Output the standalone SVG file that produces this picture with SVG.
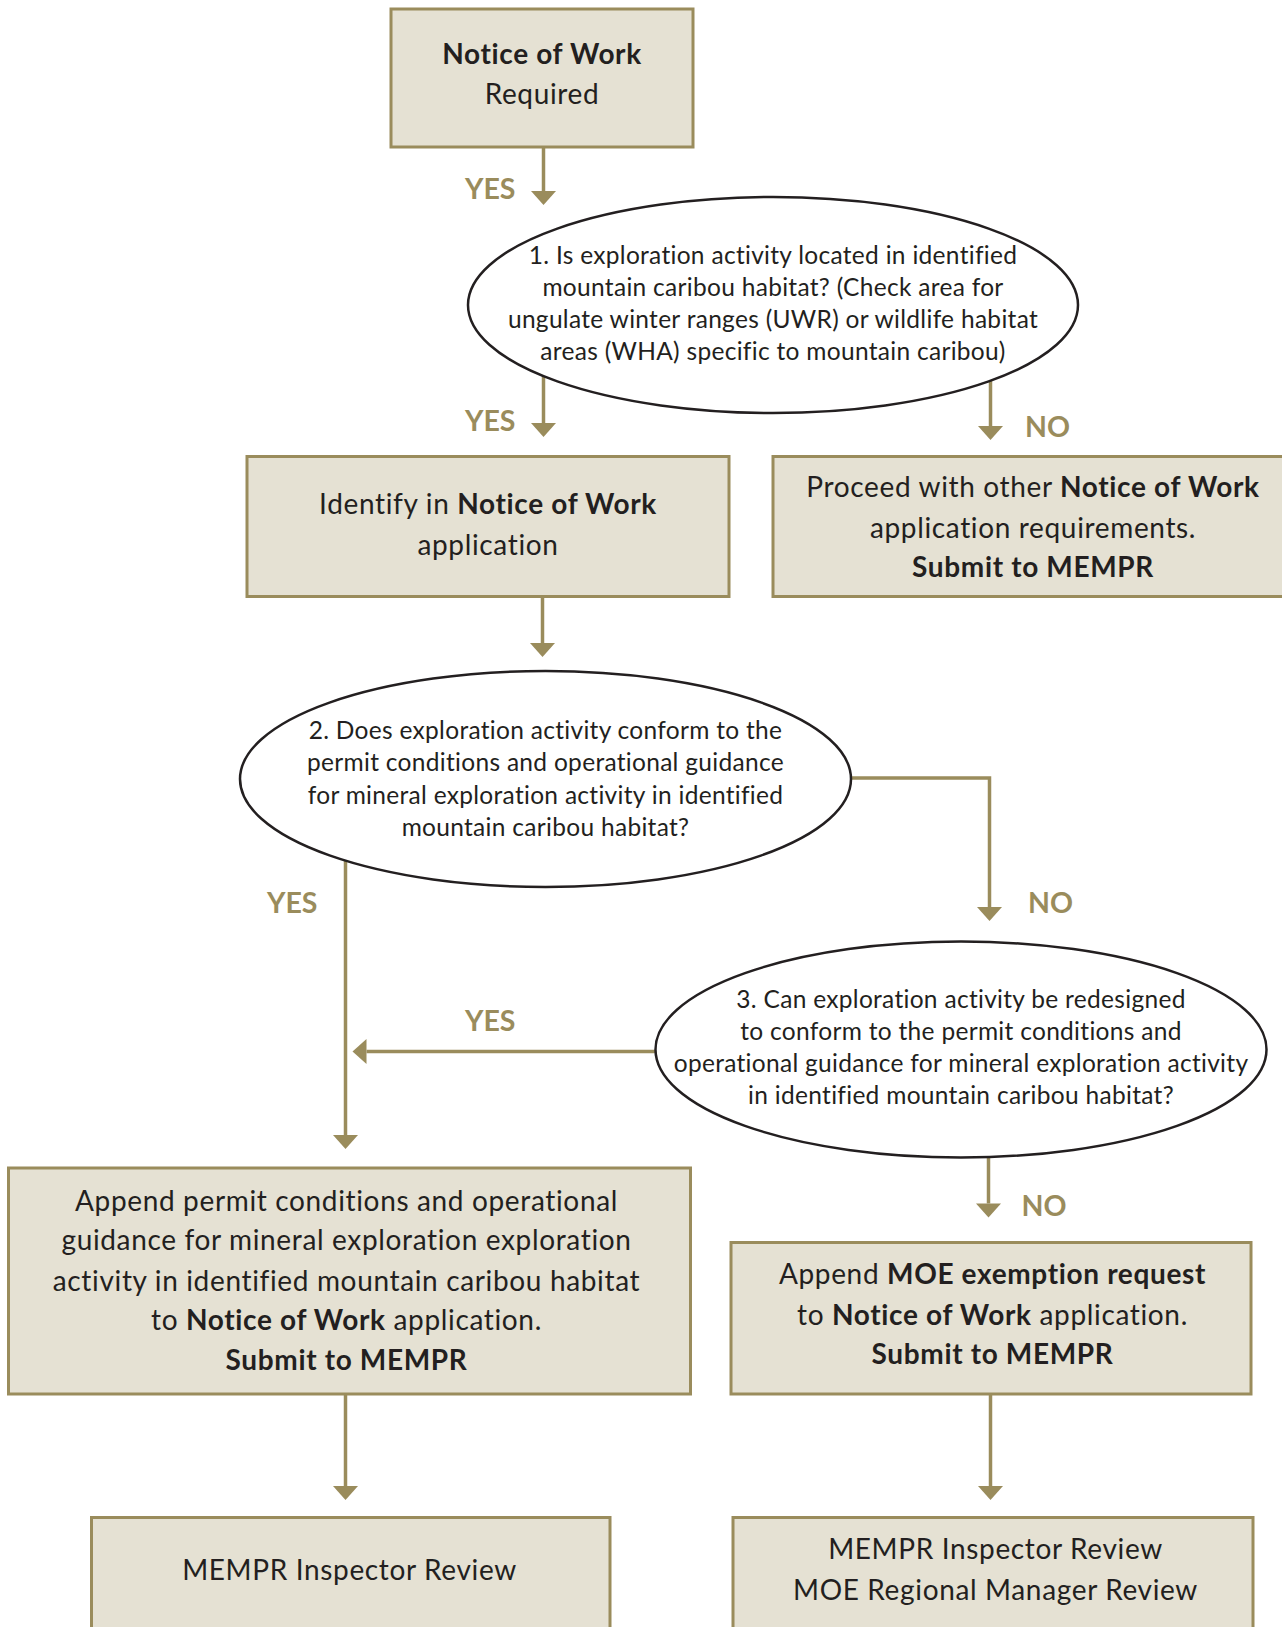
<svg xmlns="http://www.w3.org/2000/svg" width="1282" height="1627" viewBox="0 0 1282 1627">
<style>
.box{fill:#E5E1D3;stroke:#9A8C5C;stroke-width:3}
.ell{fill:#FFFFFF;stroke:#231F20;stroke-width:2.5}
.t{font-family:Lato,"Liberation Sans",sans-serif;font-size:28px;letter-spacing:0.65px;fill:#231F20;text-anchor:middle}
.e{font-family:Lato,"Liberation Sans",sans-serif;font-size:24.5px;letter-spacing:0.3px;fill:#231F20;text-anchor:middle}
.b{font-weight:bold}
.lbl{font-family:Lato,"Liberation Sans",sans-serif;font-size:28.5px;font-weight:bold;fill:#9A8C5C}
.c{fill:none;stroke:#9A8C5C;stroke-width:3.5;marker-end:url(#ah)}
</style>
<defs>
<marker id="ah" viewBox="0 -13 14 26" refX="0" refY="0" markerWidth="14" markerHeight="26" markerUnits="userSpaceOnUse" orient="auto" overflow="visible">
<path d="M0,-12.5 L14,0 L0,12.5 Z" fill="#9A8C5C"/>
</marker>
</defs>
<rect width="1282" height="1627" fill="#FFFFFF"/>

<g id="connectors">
<path class="c" d="M543.5,147 V191"/>
<path class="c" d="M543.5,376 V423"/>
<path class="c" d="M990.5,381 V426"/>
<path class="c" d="M542.5,597 V643"/>
<path class="c" d="M851,778 H989.5 V907"/>
<path class="c" d="M345.5,860 V1135"/>
<path class="c" d="M655.5,1051.5 H366.5"/>
<path class="c" d="M988.5,1157 V1203.5"/>
<path class="c" d="M345.5,1394 V1486"/>
<path class="c" d="M990.5,1394 V1486"/>
<text class="lbl" x="515.5" y="199" text-anchor="end">YES</text>
<text class="lbl" x="515.5" y="430.5" text-anchor="end">YES</text>
<text class="lbl" x="1025" y="436.5">NO</text>
<text class="lbl" x="1028" y="912.5">NO</text>
<text class="lbl" x="317.5" y="912.5" text-anchor="end">YES</text>
<text class="lbl" x="515.5" y="1031" text-anchor="end">YES</text>
<text class="lbl" x="1021.5" y="1215.5">NO</text>
</g>

<g id="n1">
<rect class="box" x="391" y="9" width="302" height="138"/>
<text class="t b" x="542" y="64">Notice of Work</text>
<text class="t" x="542" y="104">Required</text>
</g>

<g id="q1">
<ellipse class="ell" cx="773" cy="305" rx="305" ry="108"/>
<text class="e" x="773" y="264">1. Is exploration activity located in identified</text>
<text class="e" x="773" y="296">mountain caribou habitat? (Check area for</text>
<text class="e" x="773" y="328">ungulate winter ranges (UWR) or wildlife habitat</text>
<text class="e" x="773" y="360">areas (WHA) specific to mountain caribou)</text>
</g>

<g id="n2">
<rect class="box" x="247" y="456.5" width="482" height="140"/>
<text class="t" x="488" y="514">Identify in <tspan class="b">Notice of Work</tspan></text>
<text class="t" x="488" y="555">application</text>
</g>

<g id="n3">
<rect class="box" x="773" y="456.5" width="530" height="140"/>
<text class="t" x="1033" y="497">Proceed with other <tspan class="b">Notice of Work</tspan></text>
<text class="t" x="1033" y="538">application requirements.</text>
<text class="t b" x="1033" y="577">Submit to MEMPR</text>
</g>

<g id="q2">
<ellipse class="ell" cx="545.5" cy="779" rx="305.5" ry="108"/>
<text class="e" x="545.5" y="739">2. Does exploration activity conform to the</text>
<text class="e" x="545.5" y="771">permit conditions and operational guidance</text>
<text class="e" x="545.5" y="803.5">for mineral exploration activity in identified</text>
<text class="e" x="545.5" y="836">mountain caribou habitat?</text>
</g>

<g id="q3">
<ellipse class="ell" cx="961" cy="1049.5" rx="305.5" ry="108"/>
<text class="e" x="961" y="1008">3. Can exploration activity be redesigned</text>
<text class="e" x="961" y="1040">to conform to the permit conditions and</text>
<text class="e" x="961" y="1072">operational guidance for mineral exploration activity</text>
<text class="e" x="961" y="1104">in identified mountain caribou habitat?</text>
</g>

<g id="n4">
<rect class="box" x="8.5" y="1168" width="682" height="226"/>
<text class="t" x="346.5" y="1210.5">Append permit conditions and operational</text>
<text class="t" x="346.5" y="1250">guidance for mineral exploration exploration</text>
<text class="t" x="346.5" y="1290.5">activity in identified mountain caribou habitat</text>
<text class="t" x="346.5" y="1330">to <tspan class="b">Notice of Work</tspan> application.</text>
<text class="t b" x="346.5" y="1369.5">Submit to MEMPR</text>
</g>

<g id="n5">
<rect class="box" x="731" y="1242.5" width="520" height="151.5"/>
<text class="t" x="992.5" y="1284">Append <tspan class="b">MOE exemption request</tspan></text>
<text class="t" x="992.5" y="1324.5">to <tspan class="b">Notice of Work</tspan> application.</text>
<text class="t b" x="992.5" y="1364">Submit to MEMPR</text>
</g>

<g id="n6">
<rect class="box" x="91.5" y="1517.5" width="518.5" height="200"/>
<text class="t" x="349.5" y="1580">MEMPR Inspector Review</text>
</g>

<g id="n7">
<rect class="box" x="733" y="1517.5" width="520" height="200"/>
<text class="t" x="995.5" y="1559">MEMPR Inspector Review</text>
<text class="t" x="995.5" y="1599.5">MOE Regional Manager Review</text>
</g>
</svg>
